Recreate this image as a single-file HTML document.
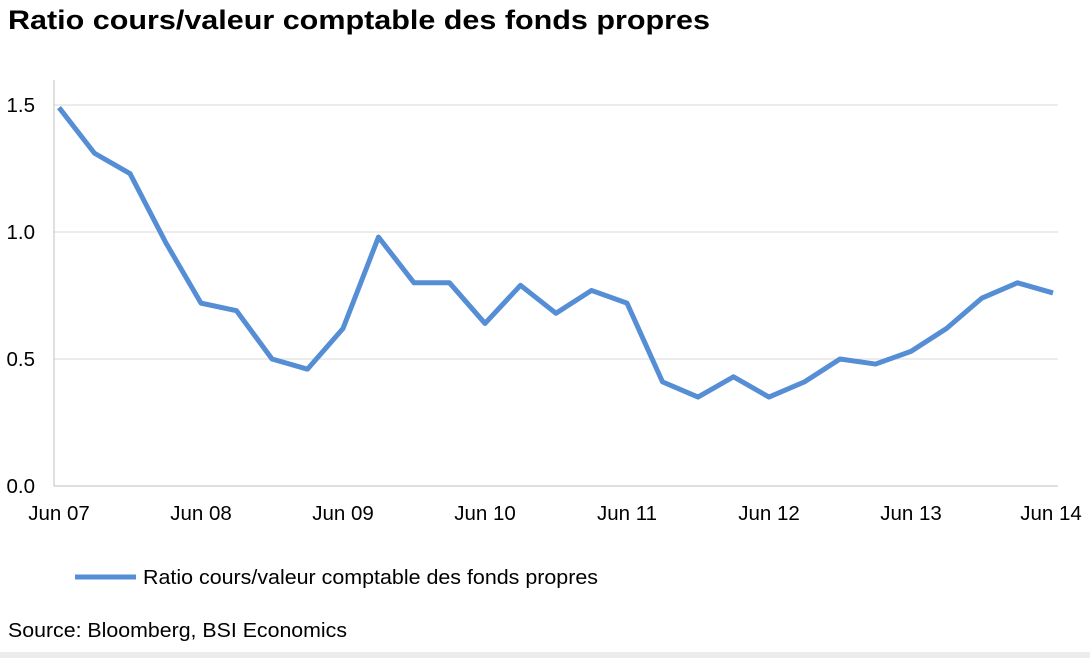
<!DOCTYPE html>
<html><head><meta charset="utf-8"><style>
body{margin:0;background:#fff;width:1090px;height:658px;overflow:hidden;font-family:"Liberation Sans",Arial,sans-serif}
</style></head><body>
<svg width="1090" height="658">
<text x="8" y="29" font-size="27" font-weight="bold" fill="#000" textLength="702" lengthAdjust="spacingAndGlyphs">Ratio cours/valeur comptable des fonds propres</text>
<g id="grid"></g>
<line x1="54" y1="80" x2="54" y2="486" stroke="#bfbfbf"/>
<g id="yt"></g>
<g id="xt"></g>
<polyline id="line" fill="none" stroke="#558ed5" stroke-width="5" stroke-linejoin="round"/>
<line x1="75" y1="577" x2="136" y2="577" stroke="#558ed5" stroke-width="5"/>
<text x="143" y="584" font-size="20.5" fill="#000" textLength="455" lengthAdjust="spacingAndGlyphs">Ratio cours/valeur comptable des fonds propres</text>
<text x="8" y="637" font-size="20.5" fill="#000" textLength="339" lengthAdjust="spacingAndGlyphs">Source: Bloomberg, BSI Economics</text>
<rect x="0" y="652" width="1090" height="6" fill="#ececec"/>
</svg>
<script>
const values=[1.49,1.31,1.23,0.96,0.72,0.69,0.50,0.46,0.62,0.98,0.80,0.80,0.64,0.79,0.68,0.77,0.72,0.41,0.35,0.43,0.35,0.41,0.50,0.48,0.53,0.62,0.74,0.80,0.76];
const yTicks=[0,0.5,1,1.5];
const yLabels=["0.0","0.5","1.0","1.5"];
const xLabels=["Jun 07","Jun 08","Jun 09","Jun 10","Jun 11","Jun 12","Jun 13","Jun 14"];
const ns="http://www.w3.org/2000/svg";
const y=v=>486-v*254;
const x=i=>59+i*(994/(values.length-1));
const g=document.getElementById('grid'),yt=document.getElementById('yt'),xt=document.getElementById('xt');
yTicks.forEach((t,k)=>{
 if(t>0){const l=document.createElementNS(ns,'line');
 l.setAttribute('x1',54);l.setAttribute('x2',1058);l.setAttribute('y1',y(t));l.setAttribute('y2',y(t));l.setAttribute('stroke','#d9d9d9');
 
 
 g.appendChild(l);}
 const s=document.createElementNS(ns,'text');
 s.setAttribute('x',35);s.setAttribute('y',y(t)+7);s.setAttribute('text-anchor','end');s.setAttribute('font-size','20.5');
 s.textContent=yLabels[k];
 
 
 yt.appendChild(s);
});
const base=document.createElementNS(ns,'line');
base.setAttribute('x1',54);base.setAttribute('x2',1058);base.setAttribute('y1',486);base.setAttribute('y2',486);base.setAttribute('stroke','#bfbfbf');


g.appendChild(base);
xLabels.forEach((lab,k)=>{
 const s=document.createElementNS(ns,'text');
 let tx=x(k*4);
 s.setAttribute('x',k===xLabels.length-1?tx-2:tx);s.setAttribute('y',520);s.setAttribute('text-anchor','middle');s.setAttribute('font-size','20.5');
 s.textContent=lab;
 
 
 xt.appendChild(s);
});
document.getElementById('line').setAttribute('points',values.map((v,i)=>x(i)+','+y(v)).join(' '));
</script>
</body></html>
